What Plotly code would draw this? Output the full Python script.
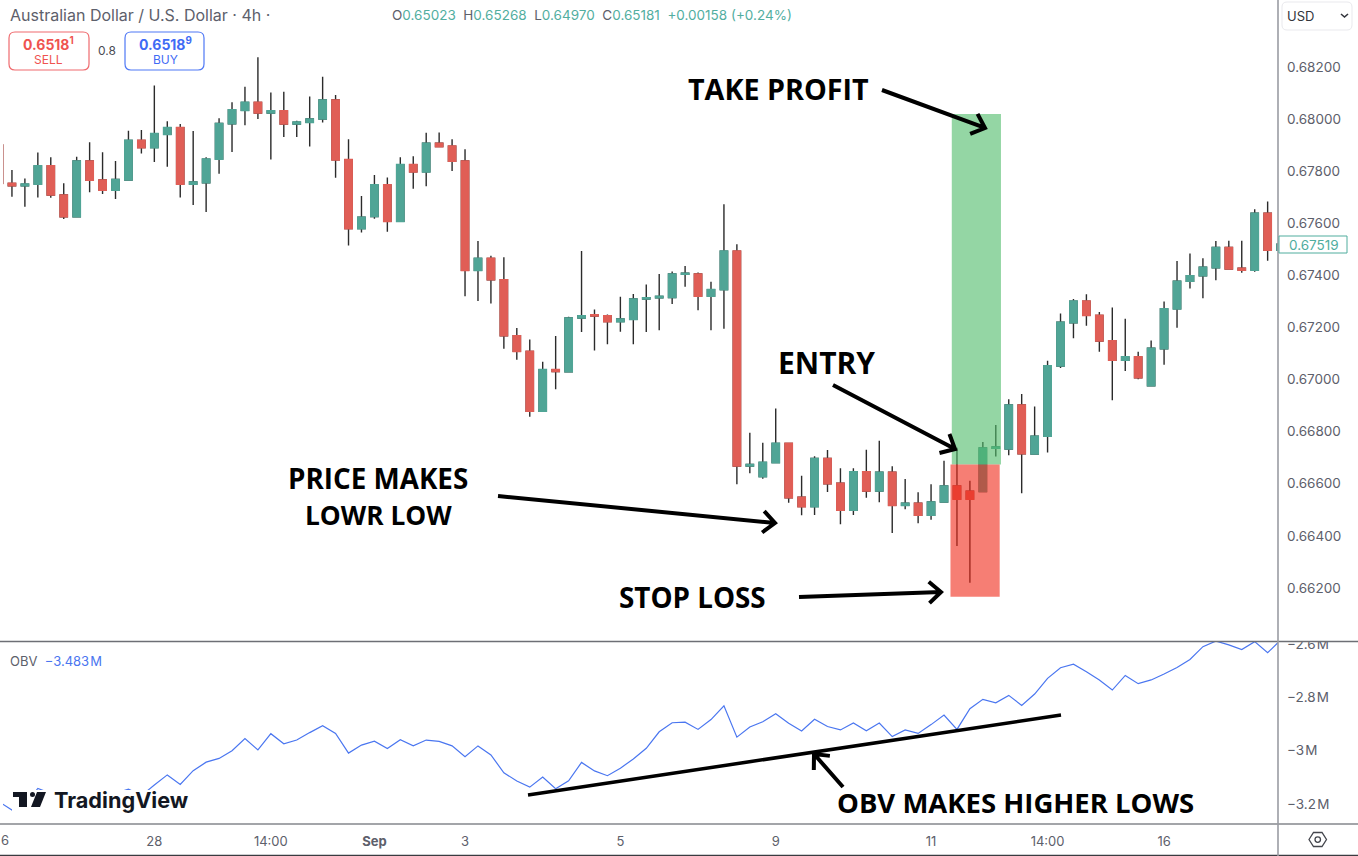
import math
import plotly.graph_objects as go

W, H = 1358, 856

# AUD/USD 4h bars
opens = [
    0.67900, 0.67753, 0.67744, 0.67750, 0.67820, 0.67708, 0.67625, 0.67839, 0.67766, 0.67727,
    0.67766, 0.67918, 0.67890, 0.67941, 0.67967, 0.67750, 0.67755, 0.67846, 0.67982, 0.68033,
    0.68064, 0.68023, 0.68031, 0.67981, 0.67987, 0.68000, 0.68073, 0.67844, 0.67579, 0.67626,
    0.67747, 0.67607, 0.67825, 0.67797, 0.67907, 0.67896, 0.67839, 0.67419, 0.67465, 0.67383,
    0.67168, 0.67108, 0.66878, 0.67038, 0.67030, 0.67236, 0.67248, 0.67245, 0.67222, 0.67231,
    0.67309, 0.67314, 0.67315, 0.67404, 0.67405, 0.67320, 0.67345, 0.67493, 0.66668, 0.66627,
    0.66681, 0.66755, 0.66548, 0.66512, 0.66697, 0.66602, 0.66498, 0.66646, 0.66572, 0.66644,
    0.66517, 0.66525, 0.66479, 0.66530, 0.66591, 0.66571, 0.66570, 0.66736, 0.66733, 0.66902,
    0.66714, 0.66782, 0.67052, 0.67218, 0.67301, 0.67246, 0.67149, 0.67074, 0.67087, 0.66976,
    0.67118, 0.67271, 0.67377, 0.67398, 0.67429, 0.67507, 0.67427, 0.67420, 0.67638, 0.67496,
]
highs = [
    0.67900, 0.67804, 0.67772, 0.67871, 0.67853, 0.67753, 0.67855, 0.67911, 0.67872, 0.67839,
    0.67955, 0.67958, 0.68129, 0.67991, 0.67981, 0.67954, 0.67853, 0.68003, 0.68064, 0.68124,
    0.68237, 0.68102, 0.68105, 0.67993, 0.68086, 0.68162, 0.68092, 0.67922, 0.67704, 0.67785,
    0.67775, 0.67853, 0.67857, 0.67947, 0.67948, 0.67922, 0.67884, 0.67532, 0.67475, 0.67469,
    0.67198, 0.67154, 0.67068, 0.67167, 0.67241, 0.67493, 0.67269, 0.67250, 0.67318, 0.67328,
    0.67365, 0.67405, 0.67415, 0.67436, 0.67411, 0.67375, 0.67673, 0.67519, 0.66796, 0.66757,
    0.66889, 0.66755, 0.66631, 0.66705, 0.66729, 0.66659, 0.66659, 0.66730, 0.66765, 0.66667,
    0.66618, 0.66567, 0.66598, 0.66688, 0.66738, 0.66611, 0.66760, 0.66825, 0.66924, 0.66944,
    0.66896, 0.67072, 0.67253, 0.67309, 0.67327, 0.67259, 0.67276, 0.67233, 0.67107, 0.67150,
    0.67299, 0.67455, 0.67484, 0.67465, 0.67532, 0.67533, 0.67533, 0.67654, 0.67683, 0.67540,
]
lows = [
    0.67753, 0.67702, 0.67663, 0.67699, 0.67698, 0.67616, 0.67625, 0.67719, 0.67712, 0.67693,
    0.67765, 0.67868, 0.67835, 0.67817, 0.67699, 0.67670, 0.67643, 0.67790, 0.67873, 0.67976,
    0.68000, 0.67845, 0.67931, 0.67931, 0.67894, 0.67987, 0.67774, 0.67514, 0.67564, 0.67617,
    0.67567, 0.67607, 0.67732, 0.67742, 0.67893, 0.67800, 0.67320, 0.67301, 0.67292, 0.67118,
    0.67076, 0.66857, 0.66878, 0.66963, 0.67030, 0.67182, 0.67111, 0.67135, 0.67183, 0.67135,
    0.67182, 0.67189, 0.67290, 0.67356, 0.67266, 0.67189, 0.67195, 0.66598, 0.66640, 0.66619,
    0.66681, 0.66527, 0.66479, 0.66480, 0.66568, 0.66444, 0.66480, 0.66546, 0.66529, 0.66411,
    0.66502, 0.66448, 0.66462, 0.66529, 0.66361, 0.66220, 0.66570, 0.66704, 0.66709, 0.66563,
    0.66714, 0.66720, 0.67044, 0.67158, 0.67206, 0.67107, 0.66920, 0.67033, 0.67001, 0.66976,
    0.67057, 0.67199, 0.67349, 0.67312, 0.67381, 0.67423, 0.67410, 0.67414, 0.67456, 0.67480,
]
closes = [
    0.67753, 0.67744, 0.67750, 0.67820, 0.67708, 0.67625, 0.67839, 0.67765, 0.67727, 0.67768,
    0.67918, 0.67890, 0.67944, 0.67967, 0.67750, 0.67758, 0.67846, 0.67983, 0.68035, 0.68064,
    0.68023, 0.68031, 0.67981, 0.67988, 0.68000, 0.68073, 0.67843, 0.67579, 0.67623, 0.67747,
    0.67607, 0.67825, 0.67797, 0.67907, 0.67894, 0.67838, 0.67419, 0.67465, 0.67383, 0.67168,
    0.67108, 0.66878, 0.67038, 0.67031, 0.67236, 0.67245, 0.67244, 0.67222, 0.67232, 0.67309,
    0.67314, 0.67319, 0.67405, 0.67408, 0.67320, 0.67345, 0.67493, 0.66668, 0.66674, 0.66682,
    0.66755, 0.66546, 0.66512, 0.66697, 0.66600, 0.66498, 0.66646, 0.66572, 0.66644, 0.66517,
    0.66525, 0.66479, 0.66530, 0.66591, 0.66541, 0.66541, 0.66737, 0.66741, 0.66902, 0.66715,
    0.66782, 0.67053, 0.67220, 0.67301, 0.67246, 0.67148, 0.67074, 0.67087, 0.67007, 0.67120,
    0.67271, 0.67377, 0.67398, 0.67431, 0.67507, 0.67424, 0.67420, 0.67638, 0.67496, 0.67519,
]
obv = [
    -3.192, -3.223, -3.204, -3.142, -3.160, -3.173, -3.154, -3.173, -3.163, -3.160,
    -3.145, -3.169, -3.129, -3.091, -3.127, -3.075, -3.043, -3.029, -3.000, -2.954,
    -2.997, -2.936, -2.974, -2.960, -2.932, -2.906, -2.935, -3.009, -2.979, -2.964,
    -2.992, -2.959, -2.982, -2.960, -2.965, -2.982, -3.023, -2.982, -3.016, -3.083,
    -3.114, -3.137, -3.099, -3.143, -3.113, -3.044, -3.076, -3.094, -3.066, -3.031,
    -2.991, -2.929, -2.895, -2.893, -2.920, -2.883, -2.831, -2.949, -2.911, -2.891,
    -2.861, -2.897, -2.926, -2.882, -2.909, -2.922, -2.896, -2.925, -2.896, -2.947,
    -2.922, -2.935, -2.902, -2.866, -2.920, -2.842, -2.807, -2.820, -2.792, -2.830,
    -2.787, -2.728, -2.688, -2.675, -2.703, -2.734, -2.772, -2.717, -2.748, -2.734,
    -2.712, -2.687, -2.657, -2.609, -2.588, -2.602, -2.620, -2.590, -2.632, -2.584,
]
bars = list(range(len(opens)))

price_ticks = [0.662, 0.664, 0.666, 0.668, 0.670, 0.672, 0.674, 0.676, 0.678, 0.680, 0.682]
obv_ticks = [-3.2, -3.0, -2.8, -2.6]
obv_labels = ["\u22123.2\u200aM", "\u22123\u200aM", "\u22122.8\u200aM", "\u22122.6\u200aM"]
date_ticks = [12, 21, 29, 36, 48, 60, 72, 81, 90]
date_labels = ["28", "14:00", "<b>Sep</b>", "3", "5", "9", "11", "14:00", "16"]

take_profit = 0.68019
entry = 0.66674
stop_loss = 0.66166

UP = "#50a596"
DOWN = "#e05e56"
WICK = "#2b2b2b"
TEXT = "#5d606b"
FONT = "Inter"
LABEL_FONT = "Open Sans"


def px(x):
    return x / W


def py(y):
    return 1 - y / H


def p(x, y):
    return f"{px(x):.5f} {py(y):.5f}"


def paper_shape(path, **kw):
    return dict(type="path", xref="paper", yref="paper", path=path, layer="above", **kw)


def hline(y, color, x0=0, x1=W, width=1.5):
    return dict(type="line", xref="paper", yref="paper", x0=px(x0), x1=px(x1), y0=py(y), y1=py(y),
                line=dict(color=color, width=width), layer="above")


def round_box(x0, y0, x1, y1, r, color, fill="white", width=1.2):
    path = (f"M {p(x0 + r, y0)} L {p(x1 - r, y0)} Q {p(x1, y0)} {p(x1, y0 + r)} "
            f"L {p(x1, y1 - r)} Q {p(x1, y1)} {p(x1 - r, y1)} "
            f"L {p(x0 + r, y1)} Q {p(x0, y1)} {p(x0, y1 - r)} "
            f"L {p(x0, y0 + r)} Q {p(x0, y0)} {p(x0 + r, y0)} Z")
    return paper_shape(path, fillcolor=fill, line=dict(color=color, width=width))


def arrow(x0, y0, x1, y1, size=16, width=4):
    ang = math.atan2(y1 - y0, x1 - x0)
    a1 = ang + math.radians(138)
    a2 = ang - math.radians(138)
    hx1, hy1 = x1 + size * math.cos(a1), y1 + size * math.sin(a1)
    hx2, hy2 = x1 + size * math.cos(a2), y1 + size * math.sin(a2)
    path = f"M {p(x0, y0)} L {p(x1, y1)} M {p(hx1, hy1)} L {p(x1, y1)} L {p(hx2, hy2)}"
    return paper_shape(path, line=dict(color="black", width=width))


def label(text, x, y, size=13, color=TEXT, font=FONT, anchor="left"):
    return dict(text=text, xref="paper", yref="paper", x=px(x), y=py(y), xanchor=anchor, yanchor="middle",
                showarrow=False, font=dict(family=font, size=size, color=color), align="center")


fig = go.Figure()
# wicks first, bodies on top so they can have another colour
fig.add_trace(go.Candlestick(
    x=bars, open=opens, high=highs, low=lows, close=closes, showlegend=False,
    increasing=dict(line=dict(color=WICK, width=1.4), fillcolor=UP),
    decreasing=dict(line=dict(color=WICK, width=1.4), fillcolor=DOWN),
))
fig.add_trace(go.Candlestick(
    x=bars, open=opens, close=closes, showlegend=False,
    high=[max(o, c) for o, c in zip(opens, closes)],
    low=[min(o, c) for o, c in zip(opens, closes)],
    increasing=dict(line=dict(color=UP, width=1.6), fillcolor=UP),
    decreasing=dict(line=dict(color=DOWN, width=1.6), fillcolor=DOWN),
))
fig.add_trace(go.Scatter(x=bars, y=obv, mode="lines", yaxis="y2", showlegend=False,
                         line=dict(color="#4a76f0", width=1.2)))

shapes = [
    # trade boxes
    dict(type="rect", xref="x", yref="y", x0=73.6, x1=77.4, y0=entry, y1=take_profit,
         fillcolor="rgba(77,187,103,0.6)", line_width=0, layer="above"),
    dict(type="rect", xref="x", yref="y", x0=73.5, x1=77.3, y0=stop_loss, y1=entry,
         fillcolor="rgba(240,40,23,0.6)", line_width=0, layer="above"),
    # white strip at the left edge, cut the top OBV tick label, hide the line under the logo
    dict(type="rect", xref="paper", yref="paper", x0=0, x1=px(3), y0=py(824), y1=1,
         fillcolor="white", line_width=0, layer="above"),
    dict(type="rect", xref="paper", yref="paper", x0=px(1279), x1=1, y0=py(641), y1=py(625),
         fillcolor="white", line_width=0, layer="above"),
    dict(type="rect", xref="paper", yref="paper", x0=px(12), x1=px(190), y0=py(790), y1=py(812),
         fillcolor="white", line_width=0, layer="above"),
    # pane borders
    hline(641.5, "#6d6f75"),
    hline(824, "#85878d"),
    hline(855.5, "#3a3b40", width=1.5),
    dict(type="line", xref="paper", yref="paper", x0=px(1278), x1=px(1278), y0=0, y1=1,
         line=dict(color="#9a9ca3", width=1.6), layer="above"),
    # last price tag
    dict(type="rect", xref="paper", yref="paper", x0=px(1279), x1=px(1347), y0=py(253), y1=py(236),
         fillcolor="white", line=dict(color="#50ad9e", width=1), layer="above"),
    # sell / buy boxes
    round_box(9, 32, 89, 70, 6, "#ef6a6e"),
    round_box(125, 32, 204, 70, 6, "#4f78f5"),
    # currency dropdown
    round_box(1282, 2, 1352, 30, 5, "#e9e9ed", width=1),
    paper_shape(f"M {p(1341, 14)} L {p(1344.5, 17)} L {p(1348, 14)}", line=dict(color="#33353c", width=1.6)),
    # settings hexagon
    paper_shape(f"M {p(1309, 839.5)} L {p(1313.5, 832.5)} L {p(1322, 832.5)} L {p(1326.5, 839.5)} "
                f"L {p(1322, 846.5)} L {p(1313.5, 846.5)} Z", line=dict(color="#44464d", width=1.3)),
    dict(type="circle", xref="paper", yref="paper", x0=px(1315), x1=px(1320.5), y0=py(842.3), y1=py(836.8),
         line=dict(color="#44464d", width=1.3), layer="above"),
    # logo mark
    paper_shape(f"M {p(13, 792)} L {p(27, 792)} L {p(27, 807)} L {p(19, 807)} L {p(19, 797)} L {p(13, 797)} Z",
                fillcolor="#131722", line_width=0),
    dict(type="circle", xref="paper", yref="paper", x0=px(30), x1=px(35), y0=py(797), y1=py(792),
         fillcolor="#131722", line_width=0, layer="above"),
    paper_shape(f"M {p(37, 792)} L {p(46, 792)} L {p(40, 807)} L {p(31, 807)} Z", fillcolor="#131722", line_width=0),
    # hand drawn arrows and trend line
    arrow(882, 90, 985, 128),
    arrow(833, 385, 955, 449),
    arrow(498, 496, 775, 523),
    arrow(799, 597, 941, 592),
    arrow(843, 787, 814, 754),
    paper_shape(f"M {p(528, 795)} L {p(1061, 715)}", line=dict(color="black", width=3.5)),
]

ohlc = ("O<span style='color:#52ae9f'>0.65023</span>  H<span style='color:#52ae9f'>0.65268</span>  "
        "L<span style='color:#52ae9f'>0.64970</span>  C<span style='color:#52ae9f'>0.65181</span>  "
        "<span style='color:#52ae9f'>+0.00158 (+0.24%)</span>")

annotations = [
    label("Australian Dollar / U.S. Dollar \u00b7 4h \u00b7", 8, 15, size=16),
    label(ohlc, 390, 15, size=13.5),
    label("<b>0.6518<sup>1</sup></b>", 49, 44, size=14, color="#ef5350", anchor="center"),
    label("SELL", 49, 60, size=12, color="#ef5350", anchor="center"),
    label("0.8", 107, 51, size=12, color="#4a4c54", anchor="center"),
    label("<b>0.6518<sup>9</sup></b>", 165, 44, size=14, color="#3f6bf5", anchor="center"),
    label("BUY", 165, 60, size=12, color="#3f6bf5", anchor="center"),
    label("USD", 1285, 16, size=13, color="#33353c"),
    label("0.67519", 1287, 244.5, size=13.5, color="#50ad9e"),
    label("OBV  <span style='color:#4a76f0'>\u22123.483\u200aM</span>", 8, 661, size=13),
    label("6", -1, 840, size=13),
    label("<b>TradingView</b>", 52, 800, size=21.7, color="#131722"),
    label("<b>TAKE PROFIT</b>", 778, 88.5, size=28.7, color="black", font=LABEL_FONT, anchor="center"),
    label("<b>ENTRY</b>", 827, 362, size=30, color="black", font=LABEL_FONT, anchor="center"),
    label("<b>PRICE MAKES</b>", 378, 478, size=27.8, color="black", font=LABEL_FONT, anchor="center"),
    label("<b>LOWR LOW</b>", 378, 514.5, size=26.3, color="black", font=LABEL_FONT, anchor="center"),
    label("<b>STOP LOSS</b>", 692, 597, size=27.8, color="black", font=LABEL_FONT, anchor="center"),
    label("<b>OBV MAKES HIGHER LOWS</b>", 1015, 802, size=27.5, color="black", font=LABEL_FONT, anchor="center"),
]

fig.update_layout(
    width=W, height=H,
    margin=dict(l=0, r=0, t=0, b=0, autoexpand=False),
    paper_bgcolor="white", plot_bgcolor="white",
    font=dict(family=FONT, size=13, color=TEXT),
    showlegend=False,
    boxgap=0.2,
    xaxis=dict(domain=[0, 1278 / W], range=[0.0772, 98.80], anchor="y2", rangeslider=dict(visible=False),
               tickmode="array", tickvals=date_ticks, ticktext=date_labels, showgrid=False, zeroline=False,
               showline=False, ticks="", ticklabelstandoff=8, tickfont=dict(family=FONT, size=13, color=TEXT)),
    yaxis=dict(domain=[1 - 641 / H, 1], range=[0.659962, 0.684568], side="right", anchor="x",
               tickmode="array", tickvals=price_ticks, tickformat=".5f", showgrid=False, zeroline=False,
               showline=False, ticks="", ticklabelstandoff=8, tickfont=dict(family=FONT, size=13.5, color=TEXT)),
    yaxis2=dict(domain=[1 - 824 / H, 1 - 642 / H], range=[-3.2756, -2.5914], side="right", anchor="x",
                tickmode="array", tickvals=obv_ticks, ticktext=obv_labels, showgrid=False, zeroline=False,
                showline=False, ticks="", ticklabelstandoff=8, tickfont=dict(family=FONT, size=13.5, color=TEXT)),
    shapes=shapes,
    annotations=annotations,
)

# pin the chart to the page corner
pin = ("document.documentElement.style.margin='0';document.body.style.margin='0';"
       "document.body.style.overflow='hidden';"
       "var d=document.getElementsByClassName('plotly-graph-div')[0];"
       "d.style.position='fixed';d.style.left='0';d.style.top='0';")
fig.write_html("out.html", config=dict(displayModeBar=False), post_script=pin)
